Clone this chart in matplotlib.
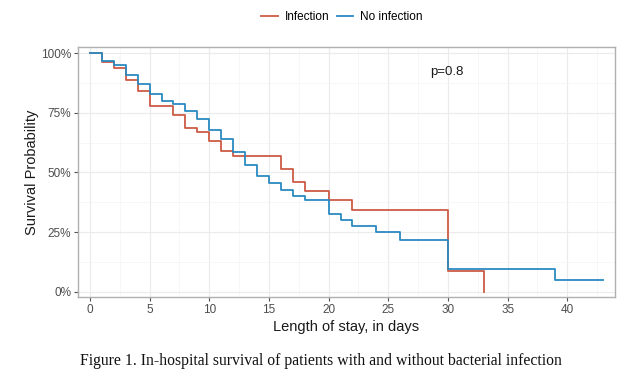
import matplotlib
matplotlib.use("Agg")
import matplotlib.pyplot as plt
from matplotlib.lines import Line2D
import numpy as np

plt.rcParams["font.family"] = ["Liberation Sans", "DejaVu Sans"]

# Kaplan-Meier step data (time, survival %)
inf_times = [0, 1, 2, 3, 4, 5, 7, 8, 9, 10, 11, 12, 16, 17, 18, 20, 22, 30, 33]
inf_surv = [100, 96.5, 93.6, 88.8, 84.0, 77.7, 74.2, 68.6, 66.8, 63.0, 58.9, 56.8,
            51.6, 45.9, 42.4, 38.6, 34.4, 8.9, 0]

noinf_times = [0, 1, 2, 3, 4, 5, 6, 7, 8, 9, 10, 11, 12, 13, 14, 15, 16, 17, 18,
               20, 21, 22, 24, 26, 30, 39, 43]
noinf_surv = [100, 96.8, 95.1, 90.7, 87.0, 82.8, 79.8, 78.5, 75.9, 72.4, 67.9, 64.0,
              58.6, 53.0, 48.4, 45.6, 42.8, 40.0, 38.5, 32.8, 30.0, 27.5, 25.0, 21.8,
              9.6, 4.9, 4.9]

series_labels = ["Infection", "No infection"]
series_colors = ["#CD5C45", "#2A8AC0"]
x_ticks = [0, 5, 10, 15, 20, 25, 30, 35, 40]
y_ticks = [0, 25, 50, 75, 100]
y_ticklabels = ["0%", "25%", "50%", "75%", "100%"]

fig = plt.figure(figsize=(6.41, 3.85), dpi=100)
ax = fig.add_axes([78/641, 1 - 297/385, (615-78)/641, (297-47)/385])

for t, s, c in [(inf_times, inf_surv, series_colors[0]), (noinf_times, noinf_surv, series_colors[1])]:
    ax.step(t, s, where="post", color=c, lw=1.3)

ax.set_xlim(-1.0, 44.0)
ax.set_ylim(-2.2, 102.6)
ax.set_xticks(x_ticks)
ax.set_xticks(np.arange(2.5, 43, 5), minor=True)
ax.set_yticks(y_ticks)
ax.set_yticklabels(y_ticklabels)
ax.set_yticks([12.5, 37.5, 62.5, 87.5], minor=True)
ax.grid(True, which="major", color="#EBEBEB", lw=0.8)
ax.grid(True, which="minor", color="#F4F4F4", lw=0.5)
ax.set_axisbelow(True)
for sp in ax.spines.values():
    sp.set_color("#B0B0B0")
    sp.set_linewidth(1.0)
ax.tick_params(which="major", length=3, color="#555555", labelsize=8.5, labelcolor="#4D4D4D", pad=2)
ax.tick_params(which="minor", length=0)

ax.set_xlabel("Length of stay, in days", fontsize=10.5, color="#1A1A1A", labelpad=3)
ax.set_ylabel("Survival Probability", fontsize=10.5, color="#1A1A1A", labelpad=1)
ax.text(29.9, 92.2, "p=0.8", fontsize=9.5, color="#1A1A1A", ha="center", va="center")

handles = [Line2D([], [], color=c, lw=1.3) for c in series_colors]
fig.legend(handles, series_labels, loc="center", bbox_to_anchor=(342/641, 1 - 17/385),
           ncol=2, frameon=False, fontsize=8.5, handlelength=1.4, handletextpad=0.6,
           columnspacing=0.6)

fig.text(0.5, 1 - 361/385, "Figure 1. In-hospital survival of patients with and without bacterial infection",
         ha="center", va="center", fontsize=11.3, family="Liberation Serif", color="#111111")

fig.savefig("out.png", dpi=100)
